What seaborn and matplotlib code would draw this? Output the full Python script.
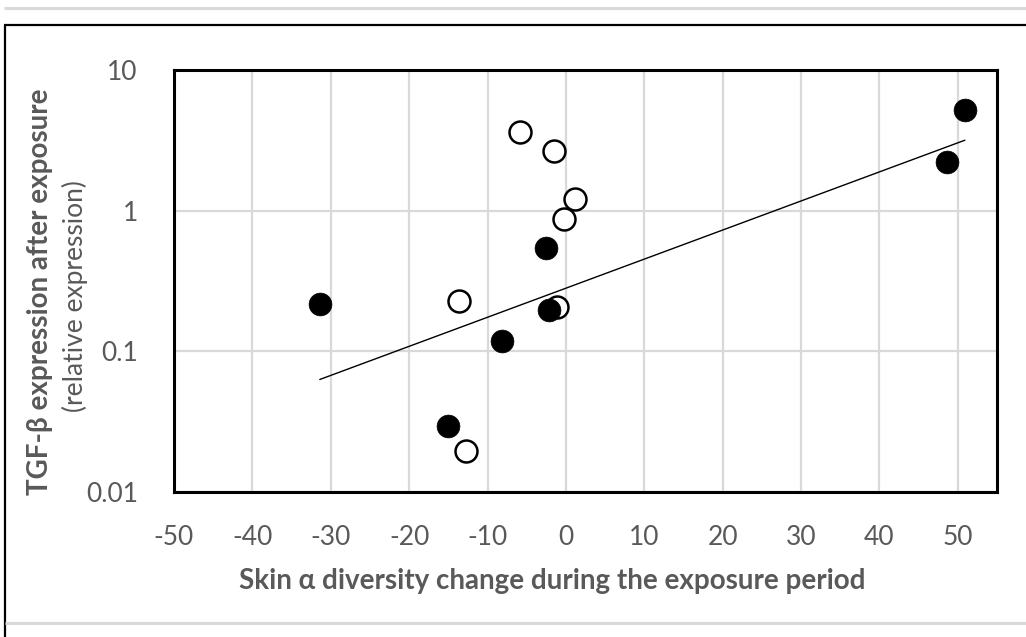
import numpy as np
import pandas as pd
import matplotlib
matplotlib.use("Agg")
import matplotlib.pyplot as plt
from matplotlib.lines import Line2D
from matplotlib.ticker import FixedLocator, FixedFormatter
import seaborn as sns

# ---- data ----
filled_x = [50.9, 48.6, -2.6, -2.2, -8.1, -31.4, -15.1]
filled_y = [5.2, 2.22, 0.54, 0.197, 0.119, 0.217, 0.0295]
open_x = [-5.8, -1.5, 1.1, -0.3, -1.1, -13.7, -12.8]
open_y = [3.62, 2.65, 1.21, 0.87, 0.207, 0.228, 0.0196]

x_ticks = [-50, -40, -30, -20, -10, 0, 10, 20, 30, 40, 50]
y_ticks = [0.01, 0.1, 1, 10]
y_tick_labels = ["0.01", "0.1", "1", "10"]

x_title = "Skin \u03b1 diversity change during the exposure period"
y_title = "TGF-\u03b2 expression after exposure"
y_subtitle = "(relative expression)"

df = pd.DataFrame({
    "x": open_x + filled_x,
    "y": open_y + filled_y,
    "group": ["open"] * len(open_x) + ["filled"] * len(filled_x),
})

sns.set_style("white")
plt.rcParams["font.family"] = ["Lato", "DejaVu Sans"]
plt.rcParams["axes.unicode_minus"] = False

W, H = 1026, 637
fig = plt.figure(figsize=(W / 100, H / 100), dpi=100)
ax = fig.add_axes([174 / W, 1 - 492 / H, (997 - 174) / W, (492 - 70) / H])

ax.set_yscale("log")
ax.set_xlim(-50, 55)
ax.set_ylim(0.01, 10)

# grid
ax.set_axisbelow(True)
ax.xaxis.set_major_locator(FixedLocator(x_ticks))
ax.yaxis.set_major_locator(FixedLocator(y_ticks))
ax.yaxis.set_major_formatter(FixedFormatter(y_tick_labels))
ax.yaxis.set_minor_locator(FixedLocator([]))
ax.grid(True, color="#d9d9d9", linewidth=1.6)

# points
sns.scatterplot(data=df[df.group == "open"], x="x", y="y", ax=ax, s=250,
                facecolor="white", edgecolor="black", linewidth=1.8,
                legend=False, zorder=3)
sns.scatterplot(data=df[df.group == "filled"], x="x", y="y", ax=ax, s=270,
                color="black", edgecolor="black", linewidth=0.5,
                legend=False, zorder=4)

# exponential trendline fitted to filled points
fx = np.array(filled_x)
fy = np.log10(np.array(filled_y))
b, a = np.polyfit(fx, fy, 1)
tx = np.linspace(fx.min(), fx.max(), 50)
trend = pd.DataFrame({"x": tx, "y": 10 ** (a + b * tx)})
sns.lineplot(data=trend, x="x", y="y", ax=ax, color="black", linewidth=1.0,
             zorder=5)

for s in ax.spines.values():
    s.set_color("black")
    s.set_linewidth(2.2)

ax.tick_params(axis="both", length=0, labelsize=19, colors="#595959")
ax.tick_params(axis="x", pad=24)
ax.tick_params(axis="y", pad=26)
ax.set_xlabel("")
ax.set_ylabel("")

fig.text(552 / W, 1 - 581 / H, x_title, ha="center", va="center",
         fontsize=20, fontweight="bold", color="#595959")
fig.text(40 / W, 1 - 292 / H, y_title, ha="center", va="center",
         rotation=90, fontsize=20, fontweight="bold", color="#595959")
fig.text(75 / W, 1 - 296 / H, y_subtitle, ha="center", va="center",
         rotation=90, fontsize=19, color="#595959")

# chart frame pieces
def fline(x0, y0, x1, y1, color, lw):
    fig.add_artist(Line2D([x0 / W, x1 / W], [1 - y0 / H, 1 - y1 / H],
                          transform=fig.transFigure, color=color,
                          linewidth=lw, solid_capstyle="butt"))

fline(4, 8, W, 8, "#d9d9d9", 2.2)
fline(4, 25, W, 25, "black", 1.6)
fline(5, 25, 5, H, "black", 1.6)
fline(5, 623, W, 623, "#d9d9d9", 2.2)

fig.savefig("out.png", dpi=100)
